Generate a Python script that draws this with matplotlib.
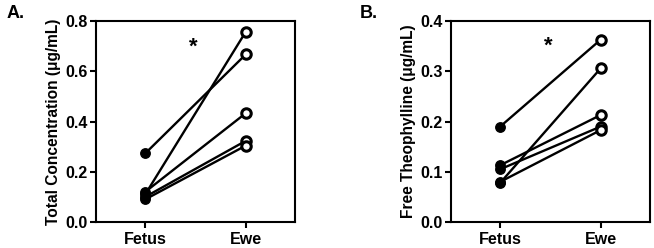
import matplotlib
matplotlib.use("Agg")
import matplotlib.pyplot as plt

plt.rcParams['font.family'] = ['Liberation Sans', 'DejaVu Sans']
plt.rcParams['font.weight'] = 'bold'

groups = ['Fetus', 'Ewe']

# panel A: total concentration, paired fetus/ewe values
total_fetus = [0.273, 0.110, 0.120, 0.100, 0.090]
total_ewe = [0.667, 0.757, 0.433, 0.323, 0.304]

# panel B: free theophylline
free_fetus = [0.190, 0.078, 0.113, 0.105, 0.080]
free_ewe = [0.363, 0.306, 0.213, 0.190, 0.183]

panels = [
    ('A.', total_fetus, total_ewe, 'Total Concentration (\u03bcg/mL)', 0.8, [0.0, 0.2, 0.4, 0.6, 0.8], '%.1f', 0.695),
    ('B.', free_fetus, free_ewe, 'Free Theophylline (\u03bcg/mL)', 0.4, [0.0, 0.1, 0.2, 0.3, 0.4], '%.1f', 0.350),
]

fig = plt.figure(figsize=(6.54, 2.48), dpi=100)
lefts = [96 / 654, 451 / 654]
label_x = [0.010, 0.550]

for i, (tag, fet, ewe, ylab, ymax, yticks, fmt, star_y) in enumerate(panels):
    ax = fig.add_axes([lefts[i], 26 / 248, 199 / 654, 201 / 248])
    for f, e in zip(fet, ewe):
        ax.plot([0, 1], [f, e], color='black', lw=1.7, zorder=2)
    ax.plot([0] * len(fet), fet, 'o', ms=6.8, color='black', zorder=3)
    ax.plot([1] * len(ewe), ewe, 'o', ms=6.8, mfc='white', mec='black', mew=2.2, zorder=3)
    ax.set_xlim(-0.49, 1.49)
    ax.set_ylim(0, ymax)
    ax.set_xticks([0, 1])
    ax.set_xticklabels(groups, fontsize=11.5, fontweight='bold')
    ax.set_yticks(yticks)
    ax.set_yticklabels([fmt % t for t in yticks], fontsize=11.5, fontweight='bold')
    ax.set_ylabel(ylab, fontsize=11.2, fontweight='bold', labelpad=3)
    for s in ax.spines.values():
        s.set_linewidth(1.5)
    ax.tick_params(direction='out', length=4, width=1.5, pad=2)
    ax.tick_params(axis='x', pad=3)
    ax.text(0.48, star_y, '*', fontsize=16, fontweight='bold', ha='center', va='center')
    fig.text(label_x[i], 0.945, tag, fontsize=13, fontweight='bold', ha='left', va='center')

fig.savefig('out.png', dpi=100)
